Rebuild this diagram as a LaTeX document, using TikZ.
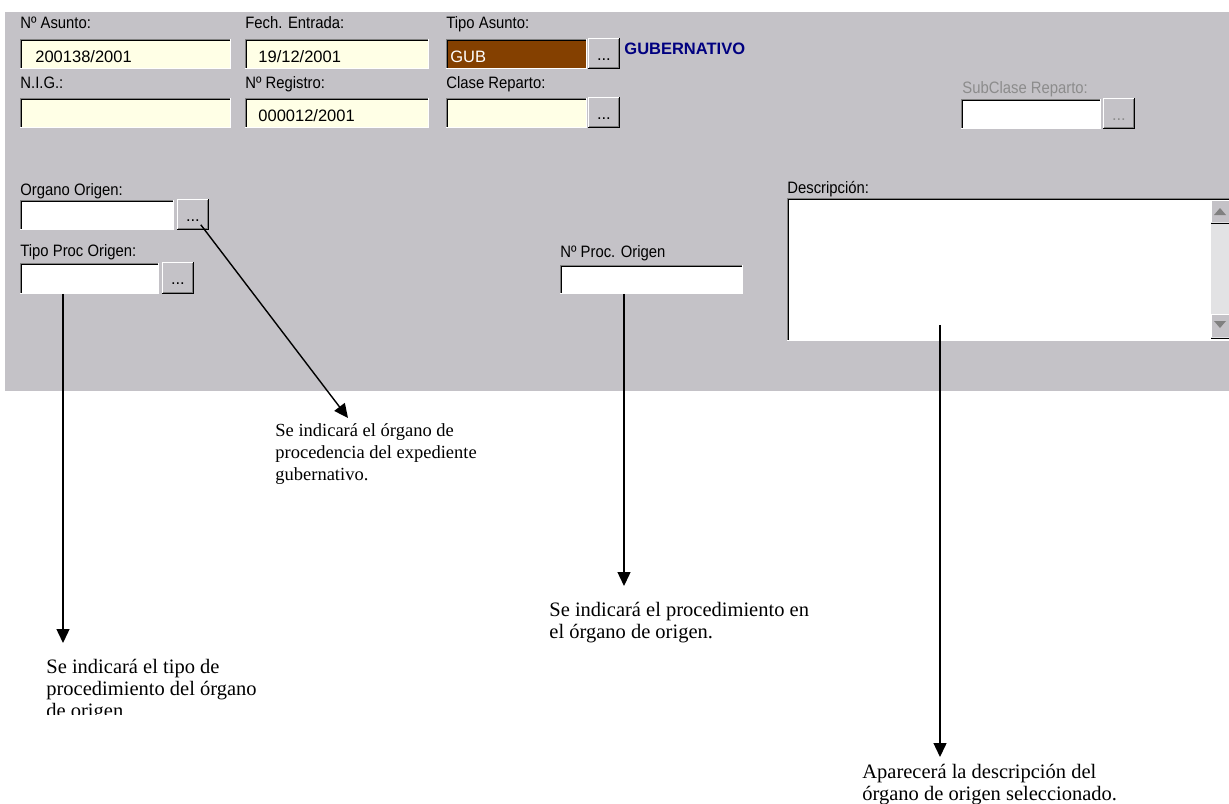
\documentclass[tikz,border=0pt]{standalone}
\usepackage{fontspec}
\setmainfont{Liberation Serif}
\setsansfont{Liberation Sans}
\newfontfamily\labelfont{Liberation Sans}[FakeStretch=0.9]
\usetikzlibrary{arrows.meta, positioning}

\definecolor{panelgray}{RGB}{196,194,199}
\definecolor{fieldyel}{RGB}{255,255,230}
\definecolor{gubbrown}{RGB}{132,64,0}
\definecolor{edgegray}{RGB}{128,128,128}
\definecolor{navytext}{RGB}{0,0,128}
\definecolor{greylabel}{RGB}{140,140,140}
\definecolor{scrolltrack}{RGB}{226,226,228}

\begin{document}
\begin{tikzpicture}[x=0.5pt, y=-0.5pt,
  ui/.style={font=\sffamily\fontsize{8.25}{10}\selectfont},
  lbl/.style={font=\labelfont\fontsize{8.25}{10}\selectfont, anchor=base west, inner sep=0pt},
  val/.style={ui, anchor=base west, inner sep=0pt},
  field/.style={anchor=north west, inner sep=0pt, fill=fieldyel},
  btn/.style={anchor=north west, inner sep=0pt, fill=panelgray, minimum width=15.5pt, minimum height=15pt},
  note/.style={anchor=base west, inner sep=0pt, align=left, font=\fontsize{9.25}{11}\selectfont},
  bignote/.style={note, font=\fontsize{10.25}{11}\selectfont},
  arr/.style={-{Triangle[length=7pt, width=6.5pt]}, line width=0.7pt}
]
  \useasboundingbox (0,0) rectangle (1229,803);
  \fill[white] (0,0) rectangle (1229,803);
  \fill[panelgray] (5,12) rectangle (1229,391);

  % first row
  \node[lbl] (lasunto) at (20,28) {Nº Asunto:};
  \node[lbl] (lfecha) at (245,28) {Fech. Entrada:};
  \node[lbl] (ltipo) at (446,28) {Tipo Asunto:};
  \node[field, minimum width=105pt, minimum height=14.5pt] (asunto) at (20,39) {};
  \node[field, minimum width=91.5pt, minimum height=14.5pt] (fecha) at (245,39) {};
  \node[field, fill=gubbrown, minimum width=70pt, minimum height=14.5pt] (tipo) at (446,39) {};
  \node[btn] (tipobtn) at (588,38) {};
  \node[val] at (35,62) {200138/2001};
  \node[val] at (258,62) {19/12/2001};
  \node[val, text=white] at (450,62) {GUB};
  \node[val, text=navytext, font=\sffamily\bfseries\fontsize{8.25}{10}\selectfont] (gubtxt) at (624,54) {GUBERNATIVO};

  % second row
  \node[lbl] (lnig) at (20,88) {N.I.G.:};
  \node[lbl] (lregistro) at (245,88) {Nº Registro:};
  \node[lbl] (lclase) at (446,88) {Clase Reparto:};
  \node[lbl, text=greylabel] (lsubclase) at (962,93) {SubClase Reparto:};
  \node[field, minimum width=105pt, minimum height=14.5pt] (nig) at (20,98) {};
  \node[field, minimum width=91.5pt, minimum height=14.5pt] (registro) at (245,98) {};
  \node[field, minimum width=70pt, minimum height=14.5pt] (clase) at (446,98) {};
  \node[btn] (clasebtn) at (588,97) {};
  \node[field, fill=white, minimum width=69.5pt, minimum height=14.5pt] (subclase) at (961,99) {};
  \node[btn] (subbtn) at (1103,98) {};
  \node[val] at (258,121) {000012/2001};

  % origin fields
  \node[lbl] (lorgano) at (20,195) {Organo Origen:};
  \node[field, fill=white, minimum width=76.5pt, minimum height=14.5pt] (organo) at (20,200) {};
  \node[btn] (orgbtn) at (177,199) {};
  \node[lbl] (ltipoproc) at (20,256) {Tipo Proc Origen:};
  \node[field, fill=white, minimum width=69pt, minimum height=15pt] (tipoproc) at (20,263) {};
  \node[btn, minimum height=15.5pt] (tpbtn) at (162,262) {};
  \node[lbl] (lnproc) at (560,257) {Nº Proc. Origen};
  \node[field, fill=white, minimum width=91pt, minimum height=14pt] (nproc) at (560,265) {};
  \node[lbl] (ldesc) at (787,193) {Descripción:};
  \node[field, fill=white, minimum width=221pt, minimum height=71pt] (desc) at (787,198) {};

  % scroll bar of the description
  \fill[scrolltrack] (1211,200) rectangle (1229,338);
  \fill[panelgray] (1211,200) rectangle (1229,222);
  \fill[panelgray] (1211,314) rectangle (1229,337);
  \draw[white, line width=0.5pt] (1211,222) |- (1229,200) (1211,337) |- (1229,314);
  \draw[black, line width=0.5pt] (1211,223) -- (1229,223) (1211,338) -- (1229,338);
  \fill[edgegray] (1214,215) -- (1220,208) -- (1226,215) -- cycle;
  \fill[edgegray] (1214,321) -- (1220,328) -- (1226,321) -- cycle;

  % sunken edges
  \foreach \f in {asunto,fecha,tipo,nig,registro,clase,subclase,organo,tipoproc,nproc,desc} {
    \draw[line width=0.5pt, edgegray] (\f.south west) |- (\f.north east);
    \draw[line width=0.5pt, black] ([shift={(1,-1)}]\f.south west) |- ([shift={(-1,1)}]\f.north east);
    \draw[line width=0.5pt, white] (\f.south west) -| (\f.north east);
  }
  % raised buttons
  \foreach \b/\c in {tipobtn/black,clasebtn/black,subbtn/greylabel,orgbtn/black,tpbtn/black} {
    \draw[line width=0.5pt, white] (\b.south west) |- (\b.north east);
    \draw[line width=0.5pt, black] (\b.south west) -| (\b.north east);
    \draw[line width=0.5pt, edgegray] ([shift={(1,-1)}]\b.south west) -| ([shift={(-1,1)}]\b.north east);
    \node[ui, text=\c, inner sep=0pt] at ([yshift=-3pt]\b.center) {...};
  }

  % notes (base = last line)
  \node[note] (note1) at (275,480) {Se indicará el órgano de\\procedencia del expediente\\gubernativo.};
  \node[bignote] (note3) at (549,638) {Se indicará el procedimiento en\\el órgano de origen.};
  \begin{scope}
    \clip (0,0) rectangle (1229,714);
    \node[bignote] (note2) at (46,717) {Se indicará el tipo de\\procedimiento del órgano\\de origen};
  \end{scope}
  \node[bignote] (note4) at (862,800) {Aparecerá la descripción del\\órgano de origen seleccionado.};

  \coordinate (tip1) at (348,418);
  \coordinate (tip2) at (63,643);
  \coordinate (tip3) at (624,586);
  \coordinate (tip4) at (940,757);

  \draw[arr, shorten <=6.5pt] (orgbtn.center) -- (tip1);
  \draw[arr] (tipoproc.south -| tip2) -- (tip2);
  \draw[arr] (nproc.south -| tip3) -- (tip3);
  \draw[arr, shorten <=-8pt] (desc.south -| tip4) -- (tip4);
\end{tikzpicture}
\end{document}
